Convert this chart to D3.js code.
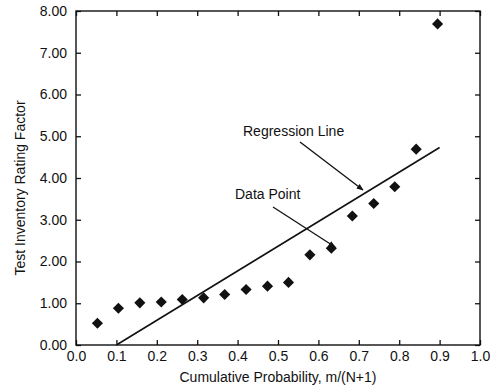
<!DOCTYPE html>
<html>
<head>
<meta charset="utf-8">
<script src="https://cdn.jsdelivr.net/npm/d3@7"></script>
<style>
  html, body { margin: 0; padding: 0; background: #fff; }
  svg { display: block; font-family: "Liberation Sans", Arial, sans-serif; }
</style>
</head>
<body>
<div id="chart"></div>
<script>
// Data
const probability = [0.053, 0.105, 0.158, 0.211, 0.263, 0.316, 0.368, 0.421, 0.474,
                     0.526, 0.579, 0.632, 0.684, 0.737, 0.789, 0.842, 0.895];
const ratingFactor = [0.52, 0.88, 1.01, 1.03, 1.09, 1.13, 1.21, 1.33, 1.41,
                      1.50, 2.16, 2.32, 3.09, 3.39, 3.79, 4.69, 7.69];
const regressionX = [0.10, 0.90];
const regressionY = [0.00, 4.73];
const xTicks = [0, 0.1, 0.2, 0.3, 0.4, 0.5, 0.6, 0.7, 0.8, 0.9, 1.0];
const yTicks = [0, 1, 2, 3, 4, 5, 6, 7, 8];
const xTitle = "Cumulative Probability, m/(N+1)";
const yTitle = "Test Inventory Rating Factor";
const annotations = [
  { label: "Regression Line", text: [243, 136], from: [300, 142], to: [363, 190] },
  { label: "Data Point", text: [235, 199], from: [273, 207], to: [335, 247] }
];

const W = 497, H = 389;
const margin = { left: 76, right: 17, top: 11, bottom: 44 };
const ink = "#111";

const svg = d3.select("#chart").append("svg")
  .attr("width", W).attr("height", H);

const x = d3.scaleLinear().domain([0, 1]).range([margin.left, W - margin.right]);
const y = d3.scaleLinear().domain([0, 8]).range([H - margin.bottom, margin.top]);

svg.append("defs").append("marker")
  .attr("id", "arrow")
  .attr("viewBox", "0 0 10 10")
  .attr("refX", 9).attr("refY", 5)
  .attr("markerWidth", 7).attr("markerHeight", 7)
  .attr("markerUnits", "userSpaceOnUse")
  .attr("orient", "auto")
  .append("path").attr("d", "M0,1 L10,5 L0,9 Z").attr("fill", ink);

function styleAxis(g) {
  g.select(".domain").remove();
  g.selectAll(".tick line").attr("stroke", ink).attr("stroke-width", 1.3);
  g.selectAll(".tick text").attr("fill", ink).attr("font-size", 14);
}

// Bottom axis
svg.append("g").attr("transform", `translate(0,${y(0)})`)
  .call(d3.axisBottom(x).tickValues(xTicks).tickFormat(d3.format(".1f")).tickSize(-5).tickPadding(6))
  .call(styleAxis);
// Top axis (ticks only)
svg.append("g").attr("transform", `translate(0,${y(8)})`)
  .call(d3.axisTop(x).tickValues(xTicks).tickFormat("").tickSize(-5))
  .call(styleAxis);
// Left axis
svg.append("g").attr("transform", `translate(${x(0)},0)`)
  .call(d3.axisLeft(y).tickValues(yTicks).tickFormat(d3.format(".2f")).tickSize(-5).tickPadding(9))
  .call(styleAxis);
// Right axis (ticks only)
svg.append("g").attr("transform", `translate(${x(1)},0)`)
  .call(d3.axisRight(y).tickValues(yTicks).tickFormat("").tickSize(-5))
  .call(styleAxis);

// Frame
svg.append("rect")
  .attr("x", x(0)).attr("y", y(8))
  .attr("width", x(1) - x(0)).attr("height", y(0) - y(8))
  .attr("fill", "none").attr("stroke", ink).attr("stroke-width", 1.4);

// Regression line
svg.append("line")
  .attr("x1", x(regressionX[0])).attr("y1", y(regressionY[0]))
  .attr("x2", x(regressionX[1])).attr("y2", y(regressionY[1]))
  .attr("stroke", ink).attr("stroke-width", 1.6);

// Data points (diamonds)
const diamond = d3.symbol().type(d3.symbolSquare).size(62);
svg.append("g").selectAll("path")
  .data(probability.map((p, i) => [p, ratingFactor[i]]))
  .join("path")
  .attr("d", diamond)
  .attr("transform", d => `translate(${x(d[0])},${y(d[1])}) rotate(45)`)
  .attr("fill", ink);

// Annotations
annotations.forEach(a => {
  svg.append("text").attr("x", a.text[0]).attr("y", a.text[1])
    .attr("font-size", 14).attr("fill", ink).text(a.label);
  svg.append("line")
    .attr("x1", a.from[0]).attr("y1", a.from[1])
    .attr("x2", a.to[0]).attr("y2", a.to[1])
    .attr("stroke", ink).attr("stroke-width", 1.3)
    .attr("marker-end", "url(#arrow)");
});

// Axis titles
svg.append("text")
  .attr("x", (x(0) + x(1)) / 2 - 0).attr("y", 382)
  .attr("text-anchor", "middle").attr("font-size", 14).attr("fill", ink)
  .text(xTitle);
svg.append("text")
  .attr("transform", `translate(25,${(y(0) + y(8)) / 2 + 10}) rotate(-90)`)
  .attr("text-anchor", "middle").attr("font-size", 14).attr("fill", ink)
  .text(yTitle);
</script>
</body>
</html>
